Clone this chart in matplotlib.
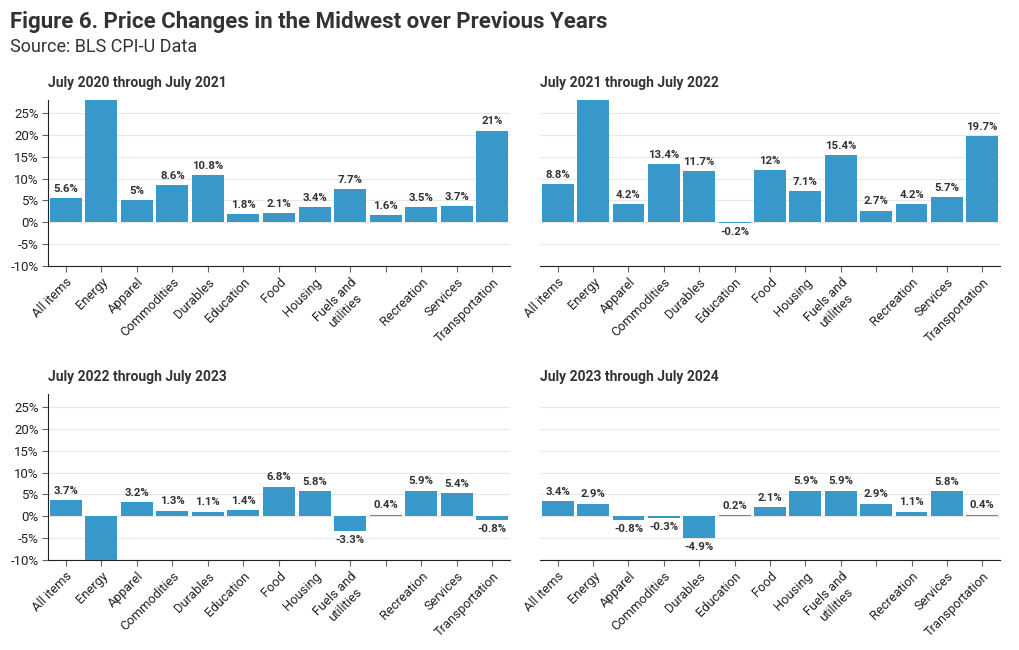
import numpy as np
import matplotlib
matplotlib.use("Agg")
import matplotlib.pyplot as plt

plt.rcParams['font.family'] = ['Roboto', 'DejaVu Sans']

categorias = ["All items", "Energy", "Apparel", "Commodities", "Durables", "Education",
              "Food", "Housing", "Fuels and\nutilities", "", "Recreation", "Services",
              "Transportation"]

titulos = ["July 2020 through July 2021", "July 2021 through July 2022",
           "July 2022 through July 2023", "July 2023 through July 2024"]

# Energy bars are cut off by the axis in the picture, values estimated
v2021 = [5.6, 30.5, 5.0, 8.6, 10.8, 1.8, 2.1, 3.4, 7.7, 1.6, 3.5, 3.7, 21.0]
v2022 = [8.8, 36.0, 4.2, 13.4, 11.7, -0.2, 12.0, 7.1, 15.4, 2.7, 4.2, 5.7, 19.7]
v2023 = [3.7, -13.0, 3.2, 1.3, 1.1, 1.4, 6.8, 5.8, -3.3, 0.4, 5.9, 5.4, -0.8]
v2024 = [3.4, 2.9, -0.8, -0.3, -4.9, 0.2, 2.1, 5.9, 5.9, 2.9, 1.1, 5.8, 0.4]
series = [v2021, v2022, v2023, v2024]

ymin, ymax = -10, 28
color = "#3998ca"
W, H = 1020, 650

fig = plt.figure(figsize=(W / 100, H / 100), dpi=100)
fig.text(10 / W, 1 - 22 / H, "Figure 6. Price Changes in the Midwest over Previous Years",
         fontsize=16, fontweight='bold', color='#333333', va='center', ha='left')
fig.text(10 / W, 1 - 47 / H, "Source: BLS CPI-U Data", fontsize=13, color='#333333',
         va='center', ha='left')

# axes boxes in pixels: left, top, right, bottom
cajas = [(48, 100, 510, 266), (540, 100, 1000, 266),
         (48, 394, 510, 560), (540, 394, 1000, 560)]

x = np.arange(len(categorias))
for i, (l, t, r, b) in enumerate(cajas):
    ax = fig.add_axes([l / W, 1 - b / H, (r - l) / W, (b - t) / H])
    vals = series[i]
    ax.bar(x, vals, width=0.9, color=color, edgecolor='none', zorder=3)
    ax.set_xlim(-0.5, len(categorias) - 0.5)
    ax.set_ylim(ymin, ymax)
    ax.set_yticks(np.arange(-10, 26, 5))
    ax.grid(axis='y', color='#e8e8e8', linewidth=0.8, zorder=0)
    for s in ['top', 'right']:
        ax.spines[s].set_visible(False)
    ax.spines['bottom'].set_color('#222222')
    ax.spines['left'].set_color('#222222')
    ax.set_xticks(x)
    ax.set_xticklabels(categorias, rotation=45, ha='right', rotation_mode='anchor',
                       fontsize=9.3, color='#222222', multialignment='center')
    ax.tick_params(axis='x', length=4.5, color='#666666', pad=2.5)
    if i % 2 == 0:
        ax.set_yticklabels([f"{v}%" for v in range(-10, 26, 5)], fontsize=9.5, color='#222222')
        ax.tick_params(axis='y', length=4.5, color='#666666', pad=2)
    else:
        ax.spines['left'].set_visible(False)
        ax.tick_params(axis='y', length=0, labelleft=False)
    for xi, v in zip(x, vals):
        if v > ymax or v < ymin:
            continue
        txt = f"{v:g}%"
        if v >= 0:
            ax.annotate(txt, (xi, v), xytext=(0, 3), textcoords='offset points',
                        ha='center', va='bottom', fontsize=8.2, fontweight='bold', color='#333333')
        else:
            ax.annotate(txt, (xi, v), xytext=(0, -3), textcoords='offset points',
                        ha='center', va='top', fontsize=8.2, fontweight='bold', color='#333333')
    fig.text(l / W, 1 - (t - 17) / H, titulos[i], fontsize=10, fontweight='bold',
             color='#333333', va='center', ha='left')

fig.savefig("out.png", dpi=100)
